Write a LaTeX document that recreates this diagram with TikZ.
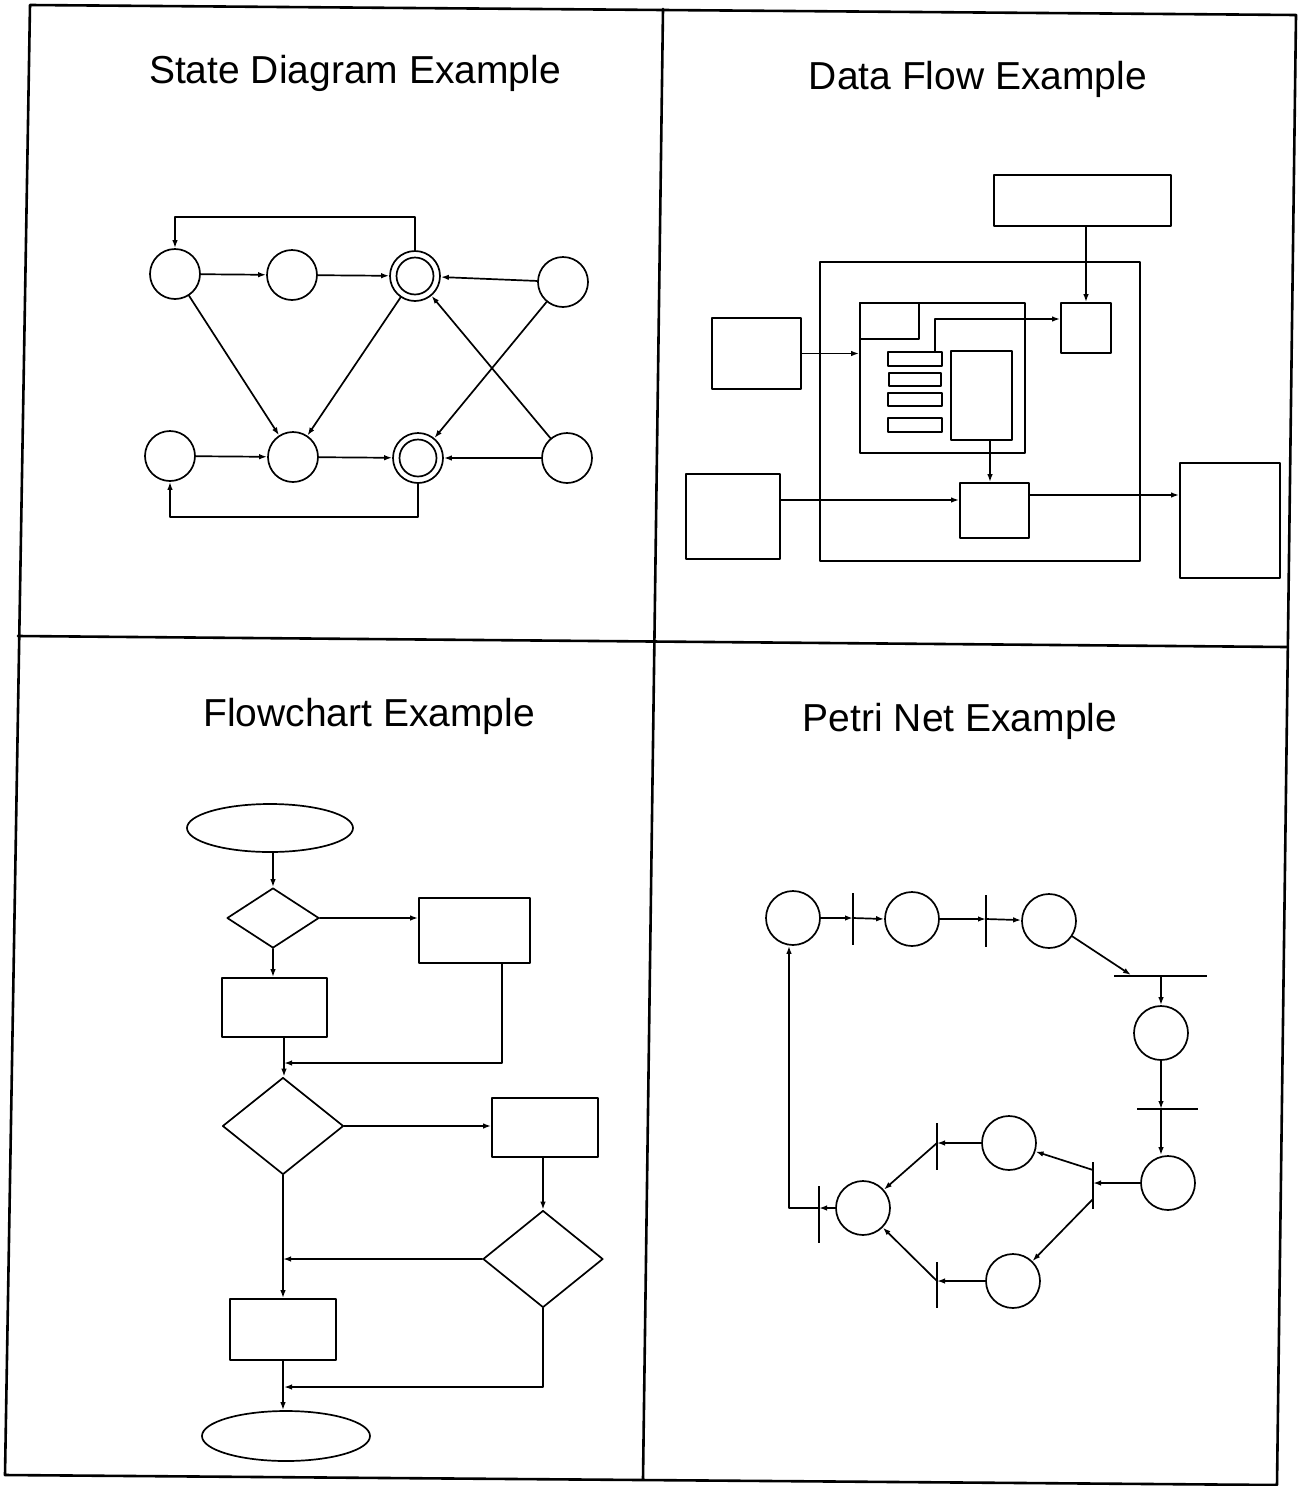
\documentclass[tikz,border=0pt]{standalone}
\usepackage{fontspec}
\setmainfont{Liberation Sans}
\usetikzlibrary{arrows.meta,shapes.geometric}

\begin{document}
\begin{tikzpicture}[x=1pt,y=-1pt,
  line cap=round,line join=round,
  frameline/.style={line width=2.6pt},
  ln/.style={line width=1.7pt},
  arr/.style={ln,-{Latex[length=8pt,width=5.5pt]}},
  title/.style={anchor=base,inner sep=0pt,font=\fontsize{39}{44}\selectfont},
  st/.style={circle,draw,ln,minimum size=50pt,inner sep=0pt},
  box/.style={rectangle,draw,ln,inner sep=0pt},
  dia/.style={diamond,draw,ln,inner sep=0pt},
  ell/.style={ellipse,draw,ln,inner sep=0pt},
  place/.style={circle,draw,ln,minimum size=54pt,inner sep=0pt},
  vbar/.style={rectangle,fill=black,minimum width=2pt,inner sep=0pt},
  hbar/.style={rectangle,fill=black,minimum height=2pt,inner sep=0pt}]

\useasboundingbox (0,0) rectangle (1299,1486);
\fill[white] (0,0) rectangle (1299,1486);

% ---------- page frame and quadrant dividers ----------
\coordinate (tl) at (30,5);
\coordinate (tr) at (1296,15);
\coordinate (br) at (1277,1485);
\coordinate (bl) at (5,1475);
\coordinate (vt) at (663,9);
\coordinate (vb) at (643,1479);
\coordinate (hl) at (18,636);
\coordinate (hr) at (1287,647);
\draw[frameline] (tl) -- (tr) -- (br) -- (bl) -- cycle;
\draw[frameline] (vt) -- (vb);
\draw[frameline] (hl) -- (hr);

% ---------- titles ----------
\node[title] (t1) at (355,83) {State Diagram Example};
\node[title] (t2) at (978,89) {Data Flow Example};
\node[title] (t3) at (369,726) {Flowchart Example};
\node[title] (t4) at (960,731) {Petri Net Example};

% ---------- state diagram ----------
\node[st] (sA) at (175,274) {};
\node[st] (sB) at (292,275) {};
\node[st] (sC) at (415,276) {};
\node[st] (sD) at (563,282) {};
\node[st] (sE) at (170,456) {};
\node[st] (sF) at (293,457) {};
\node[st] (sG) at (418,458) {};
\node[st] (sH) at (567,458) {};
\draw[ln] (sC) circle[radius=18.5pt];
\draw[ln] (sG) circle[radius=18.5pt];

\draw[arr] (sA) -- (sB);
\draw[arr] (sB) -- (sC);
\draw[arr] (sD) -- (sC);
\draw[arr] (sE) -- (sF);
\draw[arr] (sF) -- (sG);
\draw[arr] (sH) -- (sG);
\draw[arr] (sA) -- (sF);
\draw[arr] (sC) -- (sF);
\draw[arr] (sD) -- (sG);
\draw[arr] (sH) -- (sC);

\coordinate (sTop) at (0,217);
\coordinate (sBot) at (0,517);
\draw[arr] (sC.north) -- (sC.north |- sTop) -- (sA.north |- sTop) -- (sA.north);
\draw[arr] (sG.south) -- (sG.south |- sBot) -- (sE.south |- sBot) -- (sE.south);

% ---------- data flow ----------
\node[box,minimum width=177pt,minimum height=51pt] (dTop) at (1082.5,200.5) {};
\node[box,minimum width=320pt,minimum height=299pt] (dCont) at (980,411.5) {};
\node[box,minimum width=89pt,minimum height=71pt] (dL1) at (756.5,353.5) {};
\node[box,minimum width=94pt,minimum height=85pt] (dL2) at (733,516.5) {};
\node[box,minimum width=165pt,minimum height=150pt] (dPanel) at (942.5,378) {};
\node[box,minimum width=59pt,minimum height=36pt] (dCorner) at (889.5,321) {};
\node[box,minimum width=54pt,minimum height=14pt] (bar1) at (915,359) {};
\node[box,minimum width=52pt,minimum height=13pt] (bar2) at (915,379.5) {};
\node[box,minimum width=54pt,minimum height=13pt] (bar3) at (915,399.5) {};
\node[box,minimum width=54pt,minimum height=14pt] (bar4) at (915,425) {};
\node[box,minimum width=61pt,minimum height=89pt] (dTall) at (981.5,395.5) {};
\node[box,minimum width=50pt,minimum height=50pt] (dSmall) at (1086,328) {};
\node[box,minimum width=69pt,minimum height=55pt] (dMid) at (994.5,510.5) {};
\node[box,minimum width=100pt,minimum height=115pt] (dRight) at (1230,520.5) {};

\coordinate (tap) at (935,319);
\coordinate (tx) at (990,0);
\coordinate (ly) at (0,500);
\coordinate (ry) at (0,495);
\draw[arr] (dSmall.north |- dTop.south) -- (dSmall.north);
\draw[arr] (bar1.north -| tap) -- (tap) -- (tap -| dSmall.west);
\draw[arr] (dL1.east) -- (dL1.east -| dPanel.west);
\draw[arr] (dTall.south -| tx) -- (dMid.north -| tx);
\draw[arr] (dL2.east |- ly) -- (dMid.west |- ly);
\draw[arr] (dMid.east |- ry) -- (dRight.west |- ry);

% ---------- flowchart ----------
\node[ell,minimum width=166pt,minimum height=48pt] (fStart) at (270,828) {};
\node[dia,minimum width=92pt,minimum height=60pt] (fD1) at (273,918) {};
\node[box,minimum width=111pt,minimum height=65pt] (fR1) at (474.5,930.5) {};
\node[box,minimum width=105pt,minimum height=59pt] (fR2) at (274.5,1007.5) {};
\node[dia,minimum width=121pt,minimum height=97pt] (fD2) at (283,1126) {};
\node[box,minimum width=106pt,minimum height=59pt] (fR3) at (545,1127.5) {};
\node[dia,minimum width=120pt,minimum height=97pt] (fD3) at (543,1259) {};
\node[box,minimum width=106pt,minimum height=61pt] (fR4) at (283,1329.5) {};
\node[ell,minimum width=168pt,minimum height=50pt] (fEnd) at (286,1436) {};

\coordinate (j1) at (284,1063);
\coordinate (m1) at (502,1063);
\coordinate (j3) at (284,1387);
\draw[arr] (fStart.south -| fD1.north) -- (fD1.north);
\draw[arr] (fD1.east) -- (fD1.east -| fR1.west);
\draw[arr] (fD1.south) -- (fR2.north -| fD1.south);
\draw[arr] (fR1.south -| m1) -- (m1) -- (j1);
\draw[arr] (fR2.south -| j1) -- (fD2.north -| j1);
\draw[arr] (fD2.east) -- (fD2.east -| fR3.west);
\draw[arr] (fR3.south -| fD3.north) -- (fD3.north);
\draw[arr] (fD3.west) -- (fD3.west -| fD2.south);
\draw[arr] (fD2.south) -- (fR4.north -| fD2.south);
\draw[arr] (fD3.south) -- (fD3.south |- j3) -- (j3);
\draw[arr] (fR4.south) -- (fEnd.north -| fR4.south);

% ---------- petri net ----------
\node[place] (p1) at (793,918) {};
\node[place] (p2) at (912,919) {};
\node[place] (p3) at (1049,921) {};
\node[place] (p4) at (1161,1033) {};
\node[place] (p5) at (1168,1183) {};
\node[place] (p6) at (1009,1143) {};
\node[place] (p7) at (1013,1281) {};
\node[place] (p8) at (863,1208) {};

\node[vbar,minimum height=52pt] (q1) at (853,919) {};
\node[vbar,minimum height=52pt] (q2) at (986,921) {};
\node[hbar,minimum width=93pt] (q3) at (1160,976) {};
\node[hbar,minimum width=61pt] (q4) at (1167,1109) {};
\node[vbar,minimum height=47pt] (q5) at (1093,1185) {};
\node[vbar,minimum height=47pt] (q6) at (937,1146) {};
\node[vbar,minimum height=46pt] (q7) at (937,1285) {};
\node[vbar,minimum height=57pt] (q8) at (819,1214) {};

\coordinate (q3in) at (1131,975);
\coordinate (q5a) at (1093,1170);
\coordinate (q5b) at (1093,1199);
\coordinate (back) at (789,1208);

\draw[arr] (p1.east) -- (p1.east -| q1);
\draw[arr] (p1.east -| q1) -- (p2.west);
\draw[arr] (p2.east) -- (p2.east -| q2);
\draw[arr] (p2.east -| q2) -- (p3);
\draw[arr] (p3) -- (q3in);
\draw[arr] (q3 -| p4) -- (p4.north);
\draw[arr] (p4.south) -- (q4 -| p4);
\draw[arr] (q4 -| p4) -- (p5.north -| p4);
\draw[arr] (p5.west) -- (p5.west -| q5);
\draw[arr] (q5a) -- (p6);
\draw[arr] (q5b) -- (p7);
\draw[arr] (p6.west) -- (p6.west -| q6);
\draw[arr] (p6.west -| q6) -- (p8);
\draw[arr] (p7.west) -- (p7.west -| q7);
\draw[arr] (p7.west -| q7) -- (p8);
\draw[arr] (p8.west) -- (p8.west -| q8);
\draw[arr] (p8.west -| q8) -- (back) -- (back |- p1.south);

\end{tikzpicture}
\end{document}
